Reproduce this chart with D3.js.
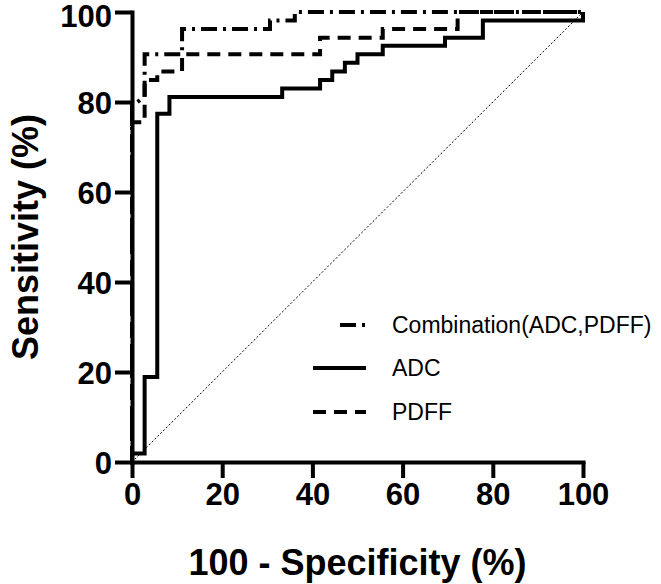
<!DOCTYPE html>
<html><head><meta charset="utf-8">
<script src="https://cdn.jsdelivr.net/npm/d3@7"></script>
<style>
html,body{margin:0;padding:0;background:#fff;}
svg{display:block;font-family:"Liberation Sans",Arial,sans-serif;}
</style></head>
<body>
<svg id="chart" width="661" height="584"></svg>
<script>
// Data (percent)
const xTicks = [0, 20, 40, 60, 80, 100];
const yTicks = [0, 20, 40, 60, 80, 100];
const seriesNames = ["Combination(ADC,PDFF)", "ADC", "PDFF"];

const combX = [0, 0, 2.8, 2.8, 11.1, 11.1, 30.6, 30.6, 36.1, 36.1, 100];
const combY = [0, 79.2, 81.1, 90.6, 90.6, 96.2, 96.2, 98.1, 98.1, 100, 100];

const adcX = [0, 0, 2.8, 2.8, 5.6, 5.6, 8.3, 8.3, 33.3, 33.3, 41.7, 41.7, 44.4, 44.4, 47.2, 47.2, 50, 50, 55.6, 55.6, 69.4, 69.4, 77.8, 77.8, 100, 100];
const adcY = [0, 1.9, 1.9, 18.9, 18.9, 77.4, 77.4, 81.1, 81.1, 83.0, 83.0, 84.9, 84.9, 86.8, 86.8, 88.7, 88.7, 90.6, 90.6, 92.5, 92.5, 94.3, 94.3, 98.1, 98.1, 100];

const pdffX = [0, 0, 2.8, 2.8, 5.6, 5.6, 11.1, 11.1, 41.7, 41.7, 55.6, 55.6, 72.2, 72.2, 100];
const pdffY = [0, 75.5, 75.5, 84.9, 84.9, 86.8, 86.8, 90.6, 90.6, 94.3, 94.3, 96.2, 96.2, 100, 100];

const refX = [0, 100];
const refY = [0, 100];

const svg = d3.select("#chart");
const x = d3.scaleLinear().domain([0, 100]).range([132, 583]);
const y = d3.scaleLinear().domain([0, 100]).range([462, 12]);

const line = d3.line().x(d => x(d[0])).y(d => y(d[1]));

// reference diagonal
svg.append("path").attr("d", line(d3.zip(refX, refY)))
  .attr("fill", "none").attr("stroke", "#000").attr("stroke-width", 1)
  .attr("stroke-dasharray", "2,2");

const styles = [
  {dash: "16,6,3,6", width: 4},
  {dash: null, width: 4},
  {dash: "13,8", width: 4}
];
const series = [d3.zip(combX, combY), d3.zip(adcX, adcY), d3.zip(pdffX, pdffY)];

[2, 0, 1].forEach(i => {
  const p = svg.append("path").attr("d", line(series[i]))
    .attr("fill", "none").attr("stroke", "#000")
    .attr("stroke-width", styles[i].width)
    .attr("stroke-linejoin", "miter");
  if (styles[i].dash) p.attr("stroke-dasharray", styles[i].dash);
});

// axes
const xAxis = svg.append("g").attr("transform", `translate(0,${y(0)})`)
  .call(d3.axisBottom(x).tickValues(xTicks).tickSize(16).tickSizeOuter(0).tickPadding(5));
const yAxis = svg.append("g").attr("transform", `translate(${x(0)},0)`)
  .call(d3.axisLeft(y).tickValues(yTicks).tickSize(17).tickSizeOuter(0).tickPadding(3));
[xAxis, yAxis].forEach(a => {
  a.select(".domain").attr("stroke-width", 4).attr("stroke", "#000").attr("stroke-linecap", "square");
  a.selectAll(".tick line").attr("stroke-width", 4).attr("stroke", "#000");
  a.selectAll(".tick text").attr("font-size", 31).attr("font-weight", "bold")
    .attr("fill", "#000").attr("font-family", "Liberation Sans, Arial, sans-serif");
});
yAxis.selectAll(".tick text").attr("dy", d => d === 100 ? "0.48em" : "0.36em");

// axis titles
svg.append("text").attr("x", (x(0) + x(100)) / 2).attr("y", 575)
  .attr("text-anchor", "middle").attr("font-size", 36).attr("font-weight", "bold")
  .text("100 - Specificity (%)");
svg.append("text").attr("transform", `translate(38,${(y(0) + y(100)) / 2}) rotate(-90)`)
  .attr("text-anchor", "middle").attr("font-size", 36).attr("font-weight", "bold")
  .text("Sensitivity (%)");

// legend
const legY = [325, 368, 412];
const legX1 = [340, 313, 313];
seriesNames.forEach((name, i) => {
  const l = svg.append("line").attr("x1", legX1[i]).attr("x2", 366)
    .attr("y1", legY[i]).attr("y2", legY[i])
    .attr("stroke", "#000").attr("stroke-width", styles[i].width);
  if (styles[i].dash) l.attr("stroke-dasharray", styles[i].dash);
  svg.append("text").attr("x", 392).attr("y", legY[i]).attr("dy", "0.36em")
    .attr("font-size", 23).text(name);
});
</script>
</body></html>
